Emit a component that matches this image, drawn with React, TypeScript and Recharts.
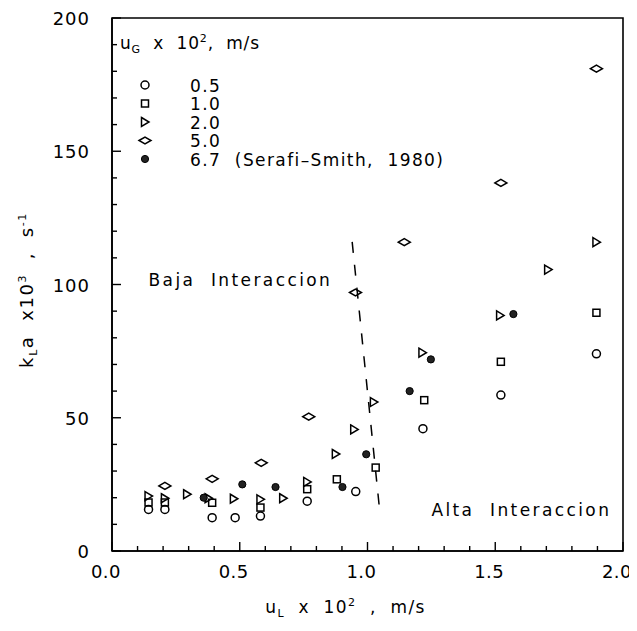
import {
  ScatterChart,
  Scatter,
  XAxis,
  YAxis,
  ReferenceLine,
  ReferenceArea,
  ReferenceDot,
  Legend,
} from "recharts";

const FONT = "'DejaVu Sans', sans-serif";

// kLa x10^3 vs uL x10^2, one list per gas velocity uG x10^2 (m/s)
const ug05 = [
  { x: 0.143, y: 15.6 }, { x: 0.207, y: 15.6 }, { x: 0.392, y: 12.5 }, { x: 0.482, y: 12.5 },
  { x: 0.581, y: 13.1 }, { x: 0.764, y: 18.7 }, { x: 0.954, y: 22.3 }, { x: 1.217, y: 45.9 },
  { x: 1.522, y: 58.5 }, { x: 1.896, y: 74.0 },
];
const ug10 = [
  { x: 0.143, y: 18.2 }, { x: 0.207, y: 18.2 }, { x: 0.392, y: 18.1 }, { x: 0.581, y: 16.3 },
  { x: 0.764, y: 23.2 }, { x: 0.880, y: 26.9 }, { x: 1.032, y: 31.3 }, { x: 1.222, y: 56.6 },
  { x: 1.522, y: 71.0 }, { x: 1.896, y: 89.4 },
];
const ug20 = [
  { x: 0.143, y: 20.6 }, { x: 0.207, y: 19.8 }, { x: 0.294, y: 21.3 }, { x: 0.378, y: 19.8 },
  { x: 0.477, y: 19.6 }, { x: 0.581, y: 19.4 }, { x: 0.670, y: 19.8 }, { x: 0.764, y: 25.9 },
  { x: 0.876, y: 36.4 }, { x: 0.948, y: 45.6 }, { x: 1.025, y: 55.9 }, { x: 1.215, y: 74.4 },
  { x: 1.519, y: 88.4 }, { x: 1.707, y: 105.6 }, { x: 1.896, y: 115.9 },
];
const ug50 = [
  { x: 0.207, y: 24.4 }, { x: 0.392, y: 27.1 }, { x: 0.584, y: 33.1 }, { x: 0.770, y: 50.4 },
  { x: 0.953, y: 97.0 }, { x: 1.144, y: 115.9 }, { x: 1.522, y: 138.1 }, { x: 1.896, y: 181.0 },
];
// Serafi-Smith, 1980
const ug67 = [
  { x: 0.359, y: 20.0 }, { x: 0.510, y: 25.0 }, { x: 0.640, y: 24.0 }, { x: 0.902, y: 24.0 },
  { x: 0.995, y: 36.3 }, { x: 1.165, y: 60.0 }, { x: 1.248, y: 71.9 }, { x: 1.571, y: 88.9 },
];

const boundary = [{ x: 0.94, y: 116 }, { x: 1.05, y: 13 }];

const xTicks = [0, 0.1, 0.2, 0.3, 0.4, 0.5, 0.6, 0.7, 0.8, 0.9, 1.0, 1.1, 1.2, 1.3, 1.4, 1.5, 1.6, 1.7, 1.8, 1.9, 2.0];
const yTicks = [0, 10, 20, 30, 40, 50, 60, 70, 80, 90, 100, 110, 120, 130, 140, 150, 160, 170, 180, 190, 200];
const xMajor = [0, 0.5, 1.0, 1.5, 2.0];
const yMajor = [0, 50, 100, 150, 200];

const legendRows = ["0.5", "1.0", "2.0", "5.0", "6.7  (Serafi\u2013Smith,  1980)"];

const SW = 1.5;

const OpenCircle = ({ cx, cy }: any) => (
  <circle cx={cx} cy={cy} r={4} fill="none" stroke="#000" strokeWidth={SW} />
);
const OpenSquare = ({ cx, cy }: any) => (
  <rect x={cx - 3.5} y={cy - 3.5} width={7} height={7} fill="none" stroke="#000" strokeWidth={SW} />
);
const OpenTriangle = ({ cx, cy }: any) => (
  <polygon
    points={`${cx - 3.5},${cy - 4.5} ${cx + 4},${cy} ${cx - 3.5},${cy + 4.5}`}
    fill="none"
    stroke="#000"
    strokeWidth={SW}
  />
);
const OpenDiamond = ({ cx, cy }: any) => (
  <polygon
    points={`${cx - 6},${cy} ${cx},${cy - 3.5} ${cx + 6},${cy} ${cx},${cy + 3.5}`}
    fill="none"
    stroke="#000"
    strokeWidth={SW}
  />
);
const FilledCircle = ({ cx, cy }: any) => (
  <circle cx={cx} cy={cy} r={3.6} fill="#222" stroke="#000" strokeWidth={1} />
);

const markers = [OpenCircle, OpenSquare, OpenTriangle, OpenDiamond, FilledCircle];

const XTick = ({ x, y, payload }: any) => {
  const v = payload.value;
  const major = xMajor.some((m) => Math.abs(m - v) < 1e-6);
  return (
    <g>
      <line x1={x} x2={x} y1={y} y2={y - (major ? 9 : 5)} stroke="#000" strokeWidth={1.4} />
      {major && (
        <text x={x - 6} y={y + 27} textAnchor="middle" fontSize={18} letterSpacing={0.5} fontFamily={FONT} fill="#000">
          {v.toFixed(1)}
        </text>
      )}
    </g>
  );
};

const YTick = ({ x, y, payload }: any) => {
  const v = payload.value;
  const major = yMajor.includes(v);
  return (
    <g>
      <line x1={x} x2={x + (major ? 9 : 5)} y1={y} y2={y} stroke="#000" strokeWidth={1.4} />
      {major && (
        <text x={x - 22} y={y + 7} textAnchor="end" fontSize={18} letterSpacing={1} fontFamily={FONT} fill="#000">
          {v}
        </text>
      )}
    </g>
  );
};

const LegendBox = () => (
  <svg width={420} height={150} style={{ display: "block" }}>
    <text x={2} y={19} fontSize={17} letterSpacing={0.8} fontFamily={FONT} fill="#000" style={{ whiteSpace: "pre" }}>
      u<tspan fontSize={11} dy={4}>G</tspan>
      <tspan dy={-4}>{"  x  10"}</tspan>
      <tspan fontSize={11} dy={-7}>2</tspan>
      <tspan dy={7}>{",  m/s"}</tspan>
    </text>
    {legendRows.map((label, i) => {
      const Marker = markers[i];
      const cy = 55 + i * 18.5;
      return (
        <g key={label}>
          <Marker cx={27} cy={cy} />
          <text x={72} y={cy + 6.5} fontSize={17} letterSpacing={1.4} fontFamily={FONT} fill="#000" style={{ whiteSpace: "pre" }}>
            {label}
          </text>
        </g>
      );
    })}
  </svg>
);

const noteLabel = (text: string) => (props: any) => {
  const { viewBox } = props;
  return (
    <text
      x={viewBox.x}
      y={viewBox.y + 6}
      fontSize={17}
      letterSpacing={2.4}
      fontFamily={FONT}
      fill="#000"
      style={{ whiteSpace: "pre" }}
    >
      {text}
    </text>
  );
};

const YLabel = () => {
  const cx = 25;
  const cy = 282;
  return (
    <text
      x={cx}
      y={cy}
      transform={`rotate(-90, ${cx}, ${cy})`}
      textAnchor="middle"
      fontSize={18}
      letterSpacing={1.6}
      fontFamily={FONT}
      fill="#000"
      style={{ whiteSpace: "pre" }}
    >
      k<tspan fontSize={11} dy={4}>L</tspan>
      <tspan dy={-4}>{"a  x10"}</tspan>
      <tspan fontSize={11} dy={-7}>3</tspan>
      <tspan dy={7}>{"  ,  s"}</tspan>
      <tspan fontSize={11} dy={-7}>-1</tspan>
    </text>
  );
};

const XLabel = (props: any) => {
  const { viewBox } = props;
  const x = viewBox.x + viewBox.width / 2 - 22;
  const y = viewBox.y + 62;
  return (
    <text x={x} y={y} textAnchor="middle" fontSize={17} letterSpacing={1.4} fontFamily={FONT} fill="#000" style={{ whiteSpace: "pre" }}>
      u<tspan fontSize={11} dy={4}>L</tspan>
      <tspan dy={-4}>{"  x  10"}</tspan>
      <tspan fontSize={11} dy={-7}>2</tspan>
      <tspan dy={7}>{"  ,  m/s"}</tspan>
    </text>
  );
};

export default function App() {
  return (
    <div style={{ width: 629, height: 615, background: "#fff" }}>
      <style>{`.recharts-surface, .recharts-wrapper { overflow: visible !important; }`}</style>
      <ScatterChart
        width={629}
        height={615}
        margin={{ top: 10, right: 14, bottom: 22, left: 0 }}
      >
        <XAxis
          type="number"
          dataKey="x"
          domain={[0, 2]}
          ticks={xTicks}
          interval={0}
          tick={<XTick />}
          tickLine={false}
          tickSize={0}
          tickMargin={0}
          axisLine={{ stroke: "#000", strokeWidth: 1.6 }}
          height={50}
          allowDataOverflow
          label={{ content: XLabel }}
        />
        <YAxis
          type="number"
          dataKey="y"
          domain={[0, 200]}
          ticks={yTicks}
          interval={0}
          tick={<YTick />}
          tickLine={false}
          tickSize={0}
          tickMargin={0}
          axisLine={{ stroke: "#000", strokeWidth: 1.6 }}
          width={104}
          allowDataOverflow
          label={{ content: YLabel }}
        />
        <ReferenceArea x1={0} x2={2} y1={0} y2={200} fill="none" stroke="#000" strokeWidth={1.6} />
        <ReferenceLine segment={boundary} stroke="#000" strokeWidth={1.5} strokeDasharray="11 12" />
        <ReferenceDot x={0.143} y={101.6} r={0} fill="none" stroke="none" label={{ content: noteLabel("Baja  Interaccion") }} />
        <ReferenceDot x={1.25} y={15.2} r={0} fill="none" stroke="none" label={{ content: noteLabel("Alta  Interaccion") }} />
        <Scatter data={ug05} shape={OpenCircle} isAnimationActive={false} />
        <Scatter data={ug10} shape={OpenSquare} isAnimationActive={false} />
        <Scatter data={ug20} shape={OpenTriangle} isAnimationActive={false} />
        <Scatter data={ug50} shape={OpenDiamond} isAnimationActive={false} />
        <Scatter data={ug67} shape={FilledCircle} isAnimationActive={false} />
        <Legend
          layout="vertical"
          align="center"
          verticalAlign="middle"
          content={<LegendBox />}
          wrapperStyle={{ left: 110, top: 22, width: 420, height: 150 }}
        />
      </ScatterChart>
    </div>
  );
}
